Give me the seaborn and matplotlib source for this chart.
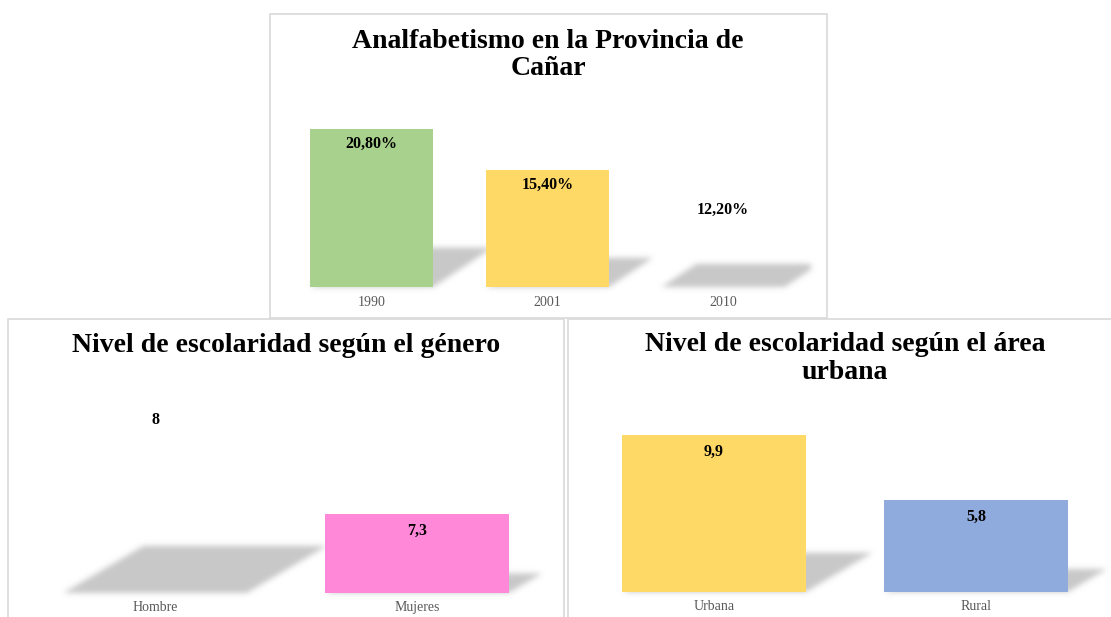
import numpy as np
import pandas as pd
import matplotlib
matplotlib.use("Agg")
import matplotlib.pyplot as plt
import seaborn as sns
from matplotlib.patches import Polygon, Rectangle

# ---------------- data ----------------
years = ["1990", "2001", "2010"]
analfabetismo = [20.8, 15.4, 12.2]
analfabetismo_labels = ["20,80%", "15,40%", "12,20%"]

generos = ["Hombre", "Mujeres"]
escolaridad_genero = [8.0, 7.3]
genero_labels = ["8", "7,3"]

areas = ["Urbana", "Rural"]
escolaridad_area = [9.9, 5.8]
area_labels = ["9,9", "5,8"]

titles = ["Analfabetismo en la Provincia de\nCañar",
          "Nivel de escolaridad según el género",
          "Nivel de escolaridad según el área\nurbana"]

# ---------------- style ----------------
sns.set_style("white")
plt.rcParams["font.family"] = ["Liberation Serif", "DejaVu Serif"]

W, H = 1111, 617
fig = plt.figure(figsize=(W / 100, H / 100), dpi=100)
fig.patch.set_facecolor("white")


def px_axes(x0, y_top, x1, y_bottom):
    return fig.add_axes([x0 / W, 1 - y_bottom / H, (x1 - x0) / W, (y_bottom - y_top) / H])


def box(x0, y0, x1, y1):
    fig.add_artist(Rectangle((x0 / W, 1 - y1 / H), (x1 - x0) / W, (y1 - y0) / H,
                             transform=fig.transFigure, facecolor="none",
                             edgecolor="#d9d9d9", lw=1.2, zorder=0))


SHADOW_RGB = np.array([200, 200, 200]) / 255.0


def gauss_blur(sigma):
    r = int(3 * sigma)
    xs = np.arange(-r, r + 1)
    ker = np.exp(-xs ** 2 / (2 * sigma ** 2))
    ker /= ker.sum()

    def f(im, dpi):
        pad = r
        alpha = np.pad(im[:, :, 3], ((pad, pad), (pad, pad)))
        tmp = np.zeros_like(alpha)
        for i, kv in enumerate(ker):
            tmp += kv * np.roll(alpha, i - r, axis=1)
        out_a = np.zeros_like(alpha)
        for i, kv in enumerate(ker):
            out_a += kv * np.roll(tmp, i - r, axis=0)
        out = np.empty(alpha.shape + (4,), dtype=im.dtype)
        out[:, :, :3] = SHADOW_RGB
        out[:, :, 3] = np.clip(out_a, 0, 1)
        return out, -pad, -pad
    return f


def add_shadow(ax, xc, v, width, k):
    y0 = ax.get_ylim()[0]
    T = ax.transData
    xl, yb = T.transform((xc - width / 2, y0))
    xr, yt = T.transform((xc + width / 2, v))
    sh = 0.25 * (yt - yb)
    shift = k * sh
    pts = [(xl, yb), (xr, yb), (xr + shift, yb + sh), (xl + shift, yb + sh)]
    pts_data = T.inverted().transform(pts)
    poly = Polygon(pts_data, closed=True, facecolor=SHADOW_RGB, edgecolor="none", zorder=0.5)
    poly.set_agg_filter(gauss_blur(2.8))
    ax.add_patch(poly)


def panel(ax, cats, vals, labels, colors, transparent, ylim, k, lab_off, pad):
    df = pd.DataFrame({"cat": cats, "val": vals})
    sns.barplot(data=df, x="cat", y="val", hue="cat", palette=colors, legend=False,
                width=0.7, ax=ax, saturation=1)
    ax.set_xlim(-0.5, len(cats) - 0.5)
    ax.set_ylim(*ylim)
    for p in ax.patches:
        p.set_zorder(2)
        p.set_edgecolor("none")
        idx = int(round(p.get_x() + p.get_width() / 2))
        if cats[idx] in transparent:
            p.set_facecolor((1, 1, 1, 0))
    for i, v in enumerate(vals):
        add_shadow(ax, i, v, 0.7, k)
        ax.annotate(labels[i], xy=(i, v), xytext=(0, -lab_off), textcoords="offset pixels",
                    ha="center", va="center", fontsize=11.5, fontweight="bold",
                    color="black", zorder=3)
    ax.set_xlabel("")
    ax.set_ylabel("")
    ax.set_yticks([])
    ax.tick_params(axis="x", length=0, pad=pad, labelsize=10, labelcolor="#595959")
    for s in ax.spines.values():
        s.set_visible(False)
    ax.set_facecolor("none")


# panel borders
box(270, 14, 827, 318)
box(8, 319, 564, 640)
box(568, 319, 1130, 640)

ax1 = px_axes(284, 97.5, 811, 287)
panel(ax1, years, analfabetismo, analfabetismo_labels,
      ["#A9D18E", "#FFD966", "#FFFFFF"], ["2010"], (0, 25), 1.5, 15, 6.5)

ax2 = px_axes(24, 373, 548, 593)
panel(ax2, generos, escolaridad_genero, genero_labels,
      ["#FFFFFF", "#FF89D8"], ["Hombre"], (6.8, 8.2), 1.7, 16, 6)

ax3 = px_axes(583, 401.7, 1107, 592)
panel(ax3, areas, escolaridad_area, area_labels,
      ["#FFD966", "#8FAADC"], [], (0, 12), 1.7, 17, 6)

fig.text(548 / W, 1 - 55 / H, titles[0], ha="center", va="center", fontsize=20,
         fontweight="bold", linespacing=1.12, color="black")
fig.text(286 / W, 1 - 345 / H, titles[1], ha="center", va="center", fontsize=20,
         fontweight="bold", color="black")
fig.text(845 / W, 1 - 358.5 / H, titles[2], ha="center", va="center", fontsize=20,
         fontweight="bold", linespacing=1.12, color="black")

fig.savefig("out.png", dpi=100, facecolor="white")
